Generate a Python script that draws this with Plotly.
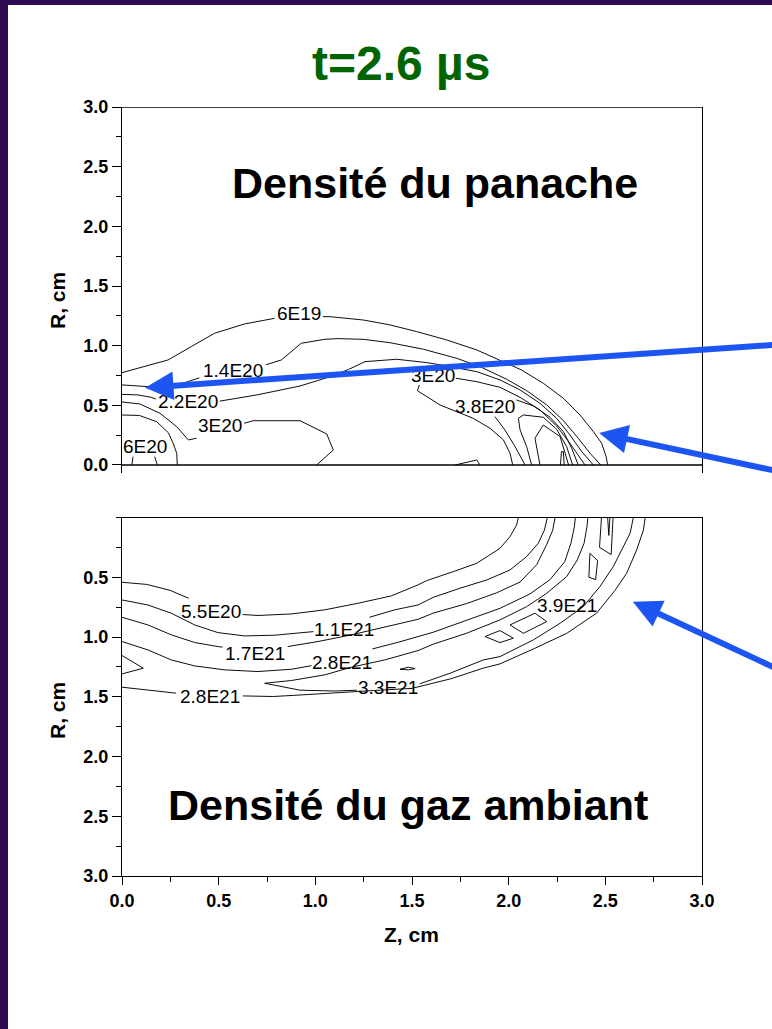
import plotly.graph_objects as go

# ---------------------------------------------------------------------------
# DATA  (Z, R in cm).  None = gap in a contour line where its label sits
# ---------------------------------------------------------------------------
# Top panel : plume density ("Densité du panache")
plume_6e19_z = [0, 0.117, 0.238, 0.358, 0.479, 0.634, 0.789, None, 1.039, 1.076, 1.248, 1.386, 1.524, 1.679,
                1.835, 1.973, 2.067, 2.179, 2.283, 2.369, 2.438, 2.481, 2.504, 2.512]
plume_6e19_r = [0.774, 0.824, 0.880, 0.992, 1.104, 1.182, 1.229, None, 1.243, 1.243, 1.215, 1.174, 1.118, 1.048,
                0.964, 0.866, 0.796, 0.685, 0.559, 0.419, 0.280, 0.182, 0.070, 0]

plume_1p4e20_z = [0, 0.082, 0.186, 0.289, 0.40, None, 0.745, 0.824, 0.927, 1.048, 1.117, 1.248, 1.386, 1.559,
                  1.731, 1.852, 1.990, 2.093, 2.197, 2.283, 2.360, 2.421, 2.476]
plume_1p4e20_r = [0.671, 0.662, 0.651, 0.671, 0.730, None, 0.840, 0.880, 1.020, 1.053, 1.059, 1.053, 1.025, 0.970,
                  0.894, 0.824, 0.718, 0.623, 0.503, 0.372, 0.224, 0.098, 0]

plume_2p2e20_z = [0, 0.082, 0.151, 0.175, None, 0.505, 0.697, 0.921, 1.076, 1.171, 1.257, 1.421, 1.576, 1.679,
                  1.835, 1.955, 2.059, 2.162, 2.248, 2.317, 2.378, 2.438]
plume_2p2e20_r = [0.592, 0.587, 0.567, 0.553, None, 0.535, 0.587, 0.662, 0.740, 0.800, 0.866, 0.886, 0.858, 0.830,
                  0.782, 0.713, 0.629, 0.517, 0.391, 0.252, 0.112, 0]

plume_3e20_left_z = [0, 0.093, 0.197, 0.283, 0.343, 0.386, None, 0.632, 0.679, 0.921, 1.059, 1.093, 1.007]
plume_3e20_left_r = [0.528, 0.511, 0.433, 0.321, 0.210, 0.224, None, 0.350, 0.371, 0.371, 0.260, 0.126, 0]

plume_inner_left_z = [0, 0.09, 0.179, 0.24, 0.265, 0.283, 0.286]
plume_inner_left_r = [0.419, 0.415, 0.363, 0.27, 0.18, 0.098, 0]

plume_6e20_z = [0.051, 0.057, None, 0.169, 0.183]
plume_6e20_r = [0, 0.07, None, 0.07, 0]

plume_3e20_right_z = [2.021, 2.007, 1.973, 1.904, 1.817, 1.645, 1.528, 1.538, None, 1.728, 1.835, 1.955, 2.059,
                      2.162, 2.248, 2.317, 2.366, 2.395]
plume_3e20_right_r = [0, 0.098, 0.210, 0.307, 0.391, 0.503, 0.623, 0.671, None, 0.727, 0.698, 0.651, 0.567,
                      0.461, 0.327, 0.182, 0.070, 0]

plume_3p8e20_z = [2.085, 2.067, 2.033, 1.981, 1.929, None, 2.040, 2.128, 2.214, 2.283, 2.326, 2.360]
plume_3p8e20_r = [0, 0.056, 0.154, 0.293, 0.405, None, 0.545, 0.495, 0.400, 0.280, 0.140, 0]

plume_inner_a_z = [2.119, 2.093, 2.059, 2.050, 2.076, 2.179, 2.248, 2.300, 2.331]
plume_inner_a_r = [0, 0.154, 0.293, 0.391, 0.419, 0.400, 0.300, 0.154, 0]

plume_inner_b_z = [2.162, 2.136, 2.179, 2.266, 2.292, 2.31]
plume_inner_b_r = [0, 0.224, 0.335, 0.238, 0.098, 0]

plume_spike_z = [2.268, 2.273, 2.283, 2.287]
plume_spike_r = [0, 0.112, 0.112, 0]

plume_bump_z = [1.723, 1.835, 1.852]
plume_bump_r = [0, 0.042, 0]

plume_label_text = ["6E19", "1.4E20", "2.2E20", "3E20", "6E20", "3E20", "3.8E20"]
plume_label_z = [0.915, 0.574, 0.341, 0.507, 0.117, 1.610, 1.878]
plume_label_r = [1.268, 0.794, 0.534, 0.327, 0.151, 0.746, 0.489]

# Bottom panel : ambient gas density ("Densité du gaz ambiant")
gas_5p5e20_z = [0, 0.128, 0.248, 0.345, None, 0.625, 0.703, 0.876, 1.048, 1.220, 1.393, 1.531, 1.576, 1.714,
                1.835, 1.955, 2.007, 2.041, 2.050]
gas_5p5e20_r = [0.542, 0.560, 0.609, 0.676, None, 0.812, 0.820, 0.807, 0.773, 0.718, 0.656, 0.564, 0.528, 0.453,
                0.383, 0.258, 0.160, 0.063, 0]

gas_1p1e21_z = [0, 0.134, 0.255, 0.376, 0.496, 0.634, 0.789, 0.945, 0.99, None, 1.28, 1.410, 1.531, 1.610,
                1.748, 1.886, 2.007, 2.093, 2.153, 2.185, 2.200]
gas_1p1e21_r = [0.690, 0.732, 0.801, 0.899, 0.963, 0.991, 0.985, 0.963, 0.955, None, 0.835, 0.773, 0.732, 0.668,
                0.592, 0.523, 0.439, 0.327, 0.216, 0.105, 0]

gas_1p7e21_z = [0, 0.134, 0.255, 0.376, 0.496, 0.52, None, 0.857, 1.014, 1.186, 1.307, 1.445, 1.531, 1.610,
                1.783, 1.938, 2.059, 2.145, 2.197, 2.228, 2.240]
gas_1p7e21_r = [0.835, 0.899, 0.982, 1.046, 1.080, 1.085, None, 1.080, 1.038, 0.982, 0.935, 0.885, 0.852, 0.800,
                0.720, 0.630, 0.540, 0.395, 0.225, 0.105, 0]

gas_2p8e21_in_z = [0, 0.134, 0.255, 0.376, 0.531, 0.703, 0.876, 0.98, None, 1.295, 1.438, 1.610, 1.783, 1.955,
                   2.110, 2.214, 2.290, 2.322, 2.340, 2.345]
gas_2p8e21_in_r = [1.038, 1.108, 1.192, 1.242, 1.275, 1.289, 1.270, 1.240, None, 1.100, 1.040, 0.960, 0.860, 0.760,
                   0.640, 0.520, 0.370, 0.216, 0.077, 0]

gas_3p3e21_z = [2.410, 2.405, 2.390, 2.355, 2.300, 2.197, 2.093, 1.955, 1.783, 1.610, 1.531, 1.358, 1.186, 1.048,
                0.876, 0.738, 0.921, 1.100, 1.215, None, 1.540, 1.600, 1.697, 1.869, 1.955, 2.128, 2.266, 2.386,
                2.472, 2.541, 2.585, 2.628, 2.645]
gas_3p3e21_r = [0, 0.077, 0.216, 0.355, 0.495, 0.634, 0.746, 0.857, 0.968, 1.060, 1.114, 1.192, 1.253, 1.317,
                1.364, 1.387, 1.445, 1.452, 1.445, None, 1.392, 1.360, 1.303, 1.192, 1.164, 1.024, 0.885, 0.746,
                0.578, 0.411, 0.272, 0.132, 0]

gas_2p8e21_out_z = [0, 0.145, 0.28, None, 0.625, 0.783, 0.955, 1.128, 1.300, 1.500, 1.700, 1.870, 1.955, 2.128,
                    2.300, 2.455, 2.550, 2.610, 2.662, 2.697, 2.706]
gas_2p8e21_out_r = [1.420, 1.448, 1.470, None, 1.493, 1.498, 1.482, 1.462, 1.448, 1.430, 1.350, 1.260, 1.225, 1.100,
                    0.970, 0.800, 0.610, 0.467, 0.272, 0.105, 0]

gas_loop_diamond_z = [1.878, 1.955, 2.024, 1.955, 1.878]
gas_loop_diamond_r = [0.996, 0.946, 1.010, 1.047, 0.996]

gas_loop_long_z = [2.007, 2.136, 2.197, 2.076, 2.007]
gas_loop_long_r = [0.899, 0.801, 0.871, 0.969, 0.899]

gas_loop_small_z = [2.420, 2.460, 2.450, 2.415, 2.420]
gas_loop_small_r = [0.300, 0.360, 0.520, 0.500, 0.300]

gas_loop_top_z = [2.480, 2.470, 2.530, 2.540]
gas_loop_top_r = [0, 0.250, 0.310, 0]

gas_spike_z = [2.512, 2.518, 2.524]
gas_spike_r = [0, 0.150, 0]

gas_eye_z = [1.438, 1.481, 1.516, 1.481, 1.438]
gas_eye_r = [1.270, 1.253, 1.264, 1.275, 1.270]

gas_wedge_z = [0, 0.110, 0]
gas_wedge_r = [1.155, 1.261, 1.309]

gas_label_text = ["5.5E20", "1.1E21", "1.7E21", "2.8E21", "3.3E21", "2.8E21", "3.9E21"]
gas_label_z = [0.458, 1.148, 0.689, 1.138, 1.378, 0.455, 2.300]
gas_label_r = [0.786, 0.935, 1.141, 1.214, 1.425, 1.498, 0.740]

# Axis ticks
z_ticks = [0, 0.5, 1.0, 1.5, 2.0, 2.5, 3.0]
z_tick_labels = ["0.0", "0.5", "1.0", "1.5", "2.0", "2.5", "3.0"]
r_ticks_top = [0, 0.5, 1.0, 1.5, 2.0, 2.5, 3.0]
r_tick_labels_top = ["0.0", "0.5", "1.0", "1.5", "2.0", "2.5", "3.0"]
r_ticks_bottom = [0.5, 1.0, 1.5, 2.0, 2.5, 3.0]
r_tick_labels_bottom = ["0.5", "1.0", "1.5", "2.0", "2.5", "3.0"]

# ---------------------------------------------------------------------------
# FIGURE
# ---------------------------------------------------------------------------
W, H = 772, 1029
ML, MR, MT, MB = 122, 70, 107, 153
PW, PH = W - ML - MR, H - MT - MB


def pxx(px):
    return (px - ML) / PW


def pxy(py):
    return (H - MB - py) / PH


FONT = "Liberation Sans, Arial, sans-serif"
LINE = dict(color="black", width=0.95)

fig = go.Figure()

top_lines = [
    (plume_6e19_z, plume_6e19_r), (plume_1p4e20_z, plume_1p4e20_r), (plume_2p2e20_z, plume_2p2e20_r),
    (plume_3e20_left_z, plume_3e20_left_r), (plume_inner_left_z, plume_inner_left_r),
    (plume_6e20_z, plume_6e20_r), (plume_3e20_right_z, plume_3e20_right_r),
    (plume_3p8e20_z, plume_3p8e20_r), (plume_inner_a_z, plume_inner_a_r),
    (plume_inner_b_z, plume_inner_b_r), (plume_spike_z, plume_spike_r), (plume_bump_z, plume_bump_r),
]
for z, r in top_lines:
    fig.add_trace(go.Scatter(x=z, y=r, mode="lines", line=LINE, xaxis="x", yaxis="y",
                             hoverinfo="skip", showlegend=False))

bottom_lines = [
    (gas_5p5e20_z, gas_5p5e20_r), (gas_1p1e21_z, gas_1p1e21_r), (gas_1p7e21_z, gas_1p7e21_r),
    (gas_2p8e21_in_z, gas_2p8e21_in_r), (gas_3p3e21_z, gas_3p3e21_r), (gas_2p8e21_out_z, gas_2p8e21_out_r),
    (gas_loop_diamond_z, gas_loop_diamond_r), (gas_loop_long_z, gas_loop_long_r),
    (gas_loop_small_z, gas_loop_small_r), (gas_loop_top_z, gas_loop_top_r), (gas_spike_z, gas_spike_r),
    (gas_eye_z, gas_eye_r), (gas_wedge_z, gas_wedge_r),
]
for z, r in bottom_lines:
    fig.add_trace(go.Scatter(x=z, y=r, mode="lines", line=LINE, xaxis="x2", yaxis="y2",
                             hoverinfo="skip", showlegend=False))

TXT = dict(showarrow=False, xanchor="center", yanchor="middle")

annotations = []
for t, z, r in zip(plume_label_text, plume_label_z, plume_label_r):
    annotations.append(dict(x=z, y=r, xref="x", yref="y", text=t,
                            font=dict(family=FONT, size=19, color="black"), **TXT))
for t, z, r in zip(gas_label_text, gas_label_z, gas_label_r):
    annotations.append(dict(x=z, y=r, xref="x2", yref="y2", text=t,
                            font=dict(family=FONT, size=19, color="black"), **TXT))

# titles / axis titles
annotations += [
    dict(x=pxx(401), y=pxy(64), xref="paper", yref="paper", text="t=2.6 µs",
         font=dict(family=FONT, size=48, color="#006400", weight="bold"), **TXT),
    dict(x=pxx(434.5), y=pxy(183), xref="paper", yref="paper", text="Densité du panache",
         font=dict(family=FONT, size=43, color="black", weight="bold"), **TXT),
    dict(x=pxx(407.5), y=pxy(805), xref="paper", yref="paper", text="Densité du gaz ambiant",
         font=dict(family=FONT, size=43, color="black", weight="bold"), **TXT),
    dict(x=pxx(57), y=pxy(301), xref="paper", yref="paper", text="R, cm", textangle=-90,
         font=dict(family=FONT, size=21, color="black", weight="bold"), **TXT),
    dict(x=pxx(57), y=pxy(711), xref="paper", yref="paper", text="R, cm", textangle=-90,
         font=dict(family=FONT, size=21, color="black", weight="bold"), **TXT),
    dict(x=pxx(411.5), y=pxy(935), xref="paper", yref="paper", text="Z, cm",
         font=dict(family=FONT, size=21, color="black", weight="bold"), **TXT),
]

# blue arrows (tip inside the panel, tail running off the right edge)
ARROW = dict(showarrow=True, arrowhead=2, arrowsize=0.95, arrowwidth=6, arrowcolor="#1D55F2",
             standoff=0, text="")
annotations += [
    dict(x=0.119, y=0.648, xref="x", yref="y", ax=3.456, ay=1.016, axref="x", ayref="y", **ARROW),
    dict(x=2.468, y=0.268, xref="x", yref="y", ax=3.456, ay=-0.075, axref="x", ayref="y", **ARROW),
    dict(x=2.642, y=0.704, xref="x2", yref="y2", ax=3.456, ay=1.318, axref="x2", ayref="y2", **ARROW),
]

shapes = [
    # top panel frame lines (top edge and R = 0 baseline)
    dict(type="line", xref="x", yref="y", x0=0, x1=3, y0=3, y1=3, line=dict(color="black", width=1.3)),
    dict(type="line", xref="x", yref="y", x0=0, x1=3, y0=0, y1=0, line=dict(color="black", width=1.3)),
    # purple slide border
    dict(type="rect", xref="paper", yref="paper", x0=pxx(-2), x1=pxx(8), y0=pxy(H + 2), y1=pxy(-2),
         fillcolor="#2E0A52", line=dict(width=0)),
    dict(type="rect", xref="paper", yref="paper", x0=pxx(-2), x1=pxx(W + 2), y0=pxy(5), y1=pxy(-2),
         fillcolor="#2E0A52", line=dict(width=0)),
]

tickfont = dict(family=FONT, size=18, color="black", weight="bold")
minor = dict(ticks="outside", ticklen=5, tickwidth=1.2, tickcolor="black", dtick=0.25, tick0=0, showgrid=False)

fig.update_layout(
    width=W, height=H,
    margin=dict(l=ML, r=MR, t=MT, b=MB, pad=0),
    paper_bgcolor="white", plot_bgcolor="white",
    showlegend=False,
    annotations=annotations,
    shapes=shapes,
    xaxis=dict(domain=[0, 1], range=[0, 3], anchor="y", showline=False, showticklabels=False, ticks="",
               showgrid=False, zeroline=False),
    yaxis=dict(domain=[pxy(107 + 3.067 * 119.33), 1], range=[-0.067, 3], anchor="x",
               showline=True, mirror=True, linecolor="black", linewidth=1.3,
               ticks="outside", ticklen=9, tickwidth=1.2, tickcolor="black",
               tickmode="array", tickvals=r_ticks_top, ticktext=r_tick_labels_top, tickfont=tickfont,
               minor=minor, showgrid=False, zeroline=False),
    xaxis2=dict(domain=[0, 1], range=[0, 3], anchor="y2",
                showline=True, mirror=True, linecolor="black", linewidth=1.3,
                ticks="outside", ticklen=8, tickwidth=1.2, tickcolor="black",
                tickmode="array", tickvals=z_ticks, ticktext=z_tick_labels, tickfont=tickfont,
                minor=minor, showgrid=False, zeroline=False),
    yaxis2=dict(domain=[0, pxy(517.5)], range=[3, 0], anchor="x2",
                showline=True, mirror=True, linecolor="black", linewidth=1.3,
                ticks="outside", ticklen=9, tickwidth=1.2, tickcolor="black",
                tickmode="array", tickvals=r_ticks_bottom, ticktext=r_tick_labels_bottom, tickfont=tickfont,
                minor=minor, showgrid=False, zeroline=False),
)

fig.write_html("out.html")
